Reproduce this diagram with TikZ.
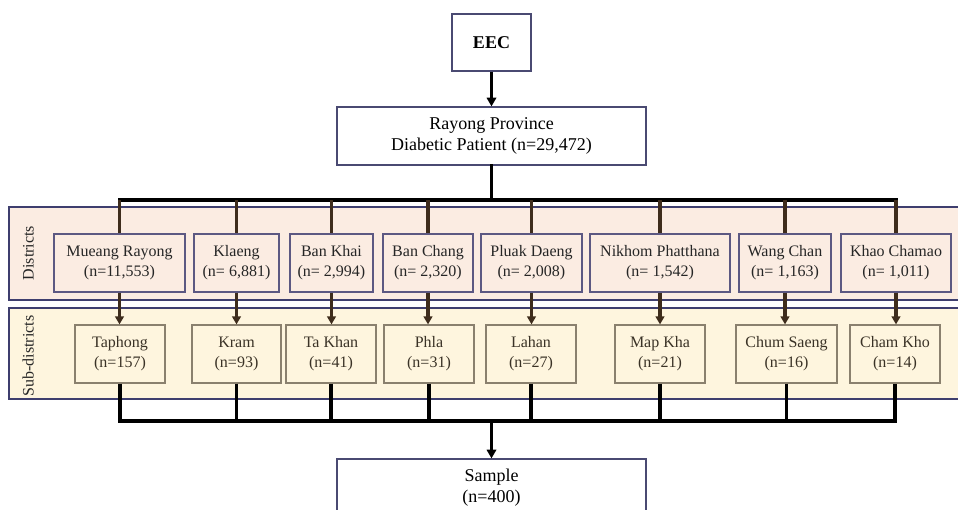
\documentclass[tikz,border=0pt]{standalone}
\usepackage{fontspec}
\setmainfont{Liberation Serif}
\usetikzlibrary{arrows.meta}
\definecolor{topline}{HTML}{4A4A72}
\definecolor{bandline}{HTML}{3E3E6E}
\definecolor{distfill}{HTML}{FBECE2}
\definecolor{distline}{HTML}{5C5882}
\definecolor{subfill}{HTML}{FEF5DE}
\definecolor{subline}{HTML}{8A806E}
\definecolor{subtext}{HTML}{3A3226}
\definecolor{dropbrown}{HTML}{3E2C1C}
\tikzset{
  topbox/.style={draw=topline, line width=0.9pt, fill=white, align=center, inner sep=0pt,
    minimum width=#1*0.75pt, minimum height=43.5pt, font=\fontsize{13.5}{16}\selectfont},
  distbox/.style={draw=distline, line width=0.9pt, fill=distfill, align=center, inner sep=0pt,
    minimum width=#1*0.75pt, minimum height=43.5pt, text=black!85, font=\fontsize{12}{15}\selectfont},
  subbox/.style={draw=subline, line width=0.9pt, fill=subfill, align=center, inner sep=0pt,
    minimum width=#1*0.75pt, minimum height=43.5pt, text=subtext, font=\fontsize{12}{15}\selectfont},
  band/.style={draw=bandline, line width=0.9pt},
  bandlabel/.style={rotate=90, anchor=south, inner sep=0pt, text=black!85, font=\fontsize{12}{14}\selectfont},
  bus/.style={line width=2.5pt, black, line cap=rect},
  drop/.style={line width=2.5pt, dropbrown},
  darrow/.style={drop, -{Triangle[width=6.5pt,length=6pt]}},
  barrow/.style={line width=2.5pt, black, -{Triangle[width=7pt,length=6.5pt]}}
}
\begin{document}
\begin{tikzpicture}[x=0.75pt,y=-0.75pt]
    \useasboundingbox (0,0) rectangle (958,510);
    \clip (0,0) rectangle (958,510);
    % bands
    \draw[band, fill=distfill] (9,207) rectangle (964,300);
    \draw[band, fill=subfill] (9,308) rectangle (964,399);
    \node[bandlabel] (lblDist) at (34,253) {Districts};
    \node[bandlabel] (lblSub) at (34,356) {Sub-districts};
    % top
    \node[topbox=79, minimum height=42.75pt, font=\fontsize{13.5}{16}\selectfont\bfseries] (eec) at (491.5,42.5) {EEC};
    \node[topbox=309] (rayong) at (491.5,136) {Rayong Province\\Diabetic Patient (n=29,472)};
    \node[topbox=309] (sample) at (491.5,488) {Sample\\(n=400)};
    % districts
    \node[distbox=131] (mueang) at (119.5,263) {Mueang Rayong\\(n=11,553)};
    \node[distbox=85] (klaeng) at (236.5,263) {Klaeng\\(n= 6,881)};
    \node[distbox=83] (bankhai) at (331.5,263) {Ban Khai\\(n= 2,994)};
    \node[distbox=90] (banchang) at (428,263) {Ban Chang\\(n= 2,320)};
    \node[distbox=101] (pluak) at (531.5,263) {Pluak Daeng\\(n= 2,008)};
    \node[distbox=140] (nikhom) at (660,263) {Nikhom Phatthana\\(n= 1,542)};
    \node[distbox=92] (wangchan) at (785,263) {Wang Chan\\(n= 1,163)};
    \node[distbox=110] (khao) at (896,263) {Khao Chamao\\(n= 1,011)};
    % sub-districts
    \node[subbox=90] (taphong) at (120,354) {Taphong\\(n=157)};
    \node[subbox=89] (kram) at (236.5,354) {Kram\\(n=93)};
    \node[subbox=90] (takhan) at (331,354) {Ta Khan\\(n=41)};
    \node[subbox=90] (phla) at (429,354) {Phla\\(n=31)};
    \node[subbox=90] (lahan) at (531,354) {Lahan\\(n=27)};
    \node[subbox=90] (mapkha) at (660,354) {Map Kha\\(n=21)};
    \node[subbox=101] (chumsaeng) at (786.5,354) {Chum Saeng\\(n=16)};
    \node[subbox=90] (chamkho) at (895,354) {Cham Kho\\(n=14)};
    % connectors
    \coordinate (busTop) at (491.5,200);
    \coordinate (busBot) at (491.5,421);
    \draw[barrow] (eec.south) -- (rayong.north);
    \draw[bus] (rayong.south) -- (busTop);
    \draw[bus] (mueang.north |- busTop) -- (khao.north |- busTop);
    \draw[drop] (mueang.north |- busTop) -- (mueang.north);
    \draw[drop] (klaeng.north |- busTop) -- (klaeng.north);
    \draw[drop] (bankhai.north |- busTop) -- (bankhai.north);
    \draw[drop] (banchang.north |- busTop) -- (banchang.north);
    \draw[drop] (pluak.north |- busTop) -- (pluak.north);
    \draw[drop] (nikhom.north |- busTop) -- (nikhom.north);
    \draw[drop] (wangchan.north |- busTop) -- (wangchan.north);
    \draw[drop] (khao.north |- busTop) -- (khao.north);
    \draw[darrow] (mueang.south) -- (mueang.south |- taphong.north);
    \draw[darrow] (klaeng.south) -- (klaeng.south |- kram.north);
    \draw[darrow] (bankhai.south) -- (bankhai.south |- takhan.north);
    \draw[darrow] (banchang.south) -- (banchang.south |- phla.north);
    \draw[darrow] (pluak.south) -- (pluak.south |- lahan.north);
    \draw[darrow] (nikhom.south) -- (nikhom.south |- mapkha.north);
    \draw[darrow] (wangchan.south) -- (wangchan.south |- chumsaeng.north);
    \draw[darrow] (khao.south) -- (khao.south |- chamkho.north);
    \draw[bus, line cap=butt] (taphong.south) -- (taphong.south |- busBot) -- (chamkho.south |- busBot) -- (chamkho.south);
    \draw[bus, line cap=butt] (kram.south) -- (kram.south |- busBot);
    \draw[bus, line cap=butt] (takhan.south) -- (takhan.south |- busBot);
    \draw[bus, line cap=butt] (phla.south) -- (phla.south |- busBot);
    \draw[bus, line cap=butt] (lahan.south) -- (lahan.south |- busBot);
    \draw[bus, line cap=butt] (mapkha.south) -- (mapkha.south |- busBot);
    \draw[bus, line cap=butt] (chumsaeng.south) -- (chumsaeng.south |- busBot);
    \draw[barrow] (busBot) -- (sample.north);
\end{tikzpicture}
\end{document}
